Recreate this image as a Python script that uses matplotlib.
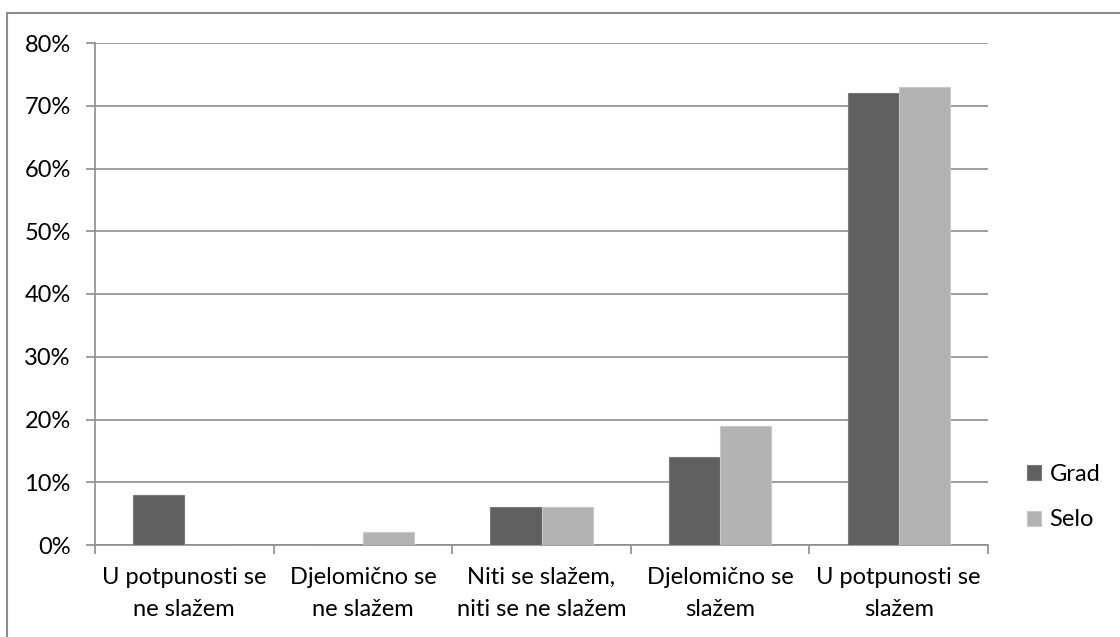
import matplotlib.pyplot as plt
import numpy as np
from matplotlib.patches import Rectangle
from matplotlib.ticker import FuncFormatter, FixedLocator

categories = ["U potpunosti se\nne slažem", "Djelomično se\nne slažem",
              "Niti se slažem,\nniti se ne slažem", "Djelomično se\nslažem",
              "U potpunosti se\nslažem"]
grad = [8, 0, 6, 14, 72]
selo = [0, 2, 6, 19, 73]

plt.rcParams['font.family'] = ['Lato', 'DejaVu Sans']

fig = plt.figure(figsize=(11.2, 6.37), dpi=100)
ax = fig.add_axes([95 / 1120, 1 - 545 / 637, (988 - 95) / 1120, (545 - 43) / 637])

# outer chart border (only left and top show in the frame)
fig.patches.append(Rectangle((7 / 1120, -0.1), 1.2, 1 - 13 / 637 + 0.1,
                             transform=fig.transFigure, fill=False,
                             edgecolor='#8c8c8c', linewidth=1.5))

x = np.arange(len(categories))
w = 1 / 3.5
ax.bar(x - w / 2, grad, w, color='#606060', edgecolor='#7a7a7a', linewidth=0.8, label='Grad', zorder=3)
ax.bar(x + w / 2, selo, w, color='#b2b2b2', edgecolor='#c8c8c8', linewidth=0.8, label='Selo', zorder=3)

ax.set_xlim(-0.5, len(categories) - 0.5)
ax.set_ylim(0, 80)
ax.set_yticks(range(0, 81, 10))
ax.yaxis.set_major_formatter(FuncFormatter(lambda v, p: f"{int(v)}%"))
ax.grid(axis='y', color='#8c8c8c', linewidth=1.2, zorder=0)

ax.set_xticks(x)
ax.set_xticklabels(categories, fontsize=17, linespacing=1.65)
ax.tick_params(axis='x', length=0, pad=16)
ax.xaxis.set_minor_locator(FixedLocator(np.arange(-0.5, len(categories), 1)))
ax.tick_params(axis='x', which='minor', length=6.5, color='#8c8c8c', width=1.2)
ax.tick_params(axis='y', length=6.5, color='#8c8c8c', width=1.2, labelsize=17, pad=11)

for side in ['top', 'right']:
    ax.spines[side].set_visible(False)
for side in ['left', 'bottom']:
    ax.spines[side].set_color('#8c8c8c')
    ax.spines[side].set_linewidth(1.2)

fig.legend(loc='center left', bbox_to_anchor=(1006 / 1120, 1 - 497 / 637), frameon=False,
           fontsize=17, handlelength=0.6, handleheight=0.6, handletextpad=0.35,
           labelspacing=1.05)

fig.savefig('out.png', dpi=100)
